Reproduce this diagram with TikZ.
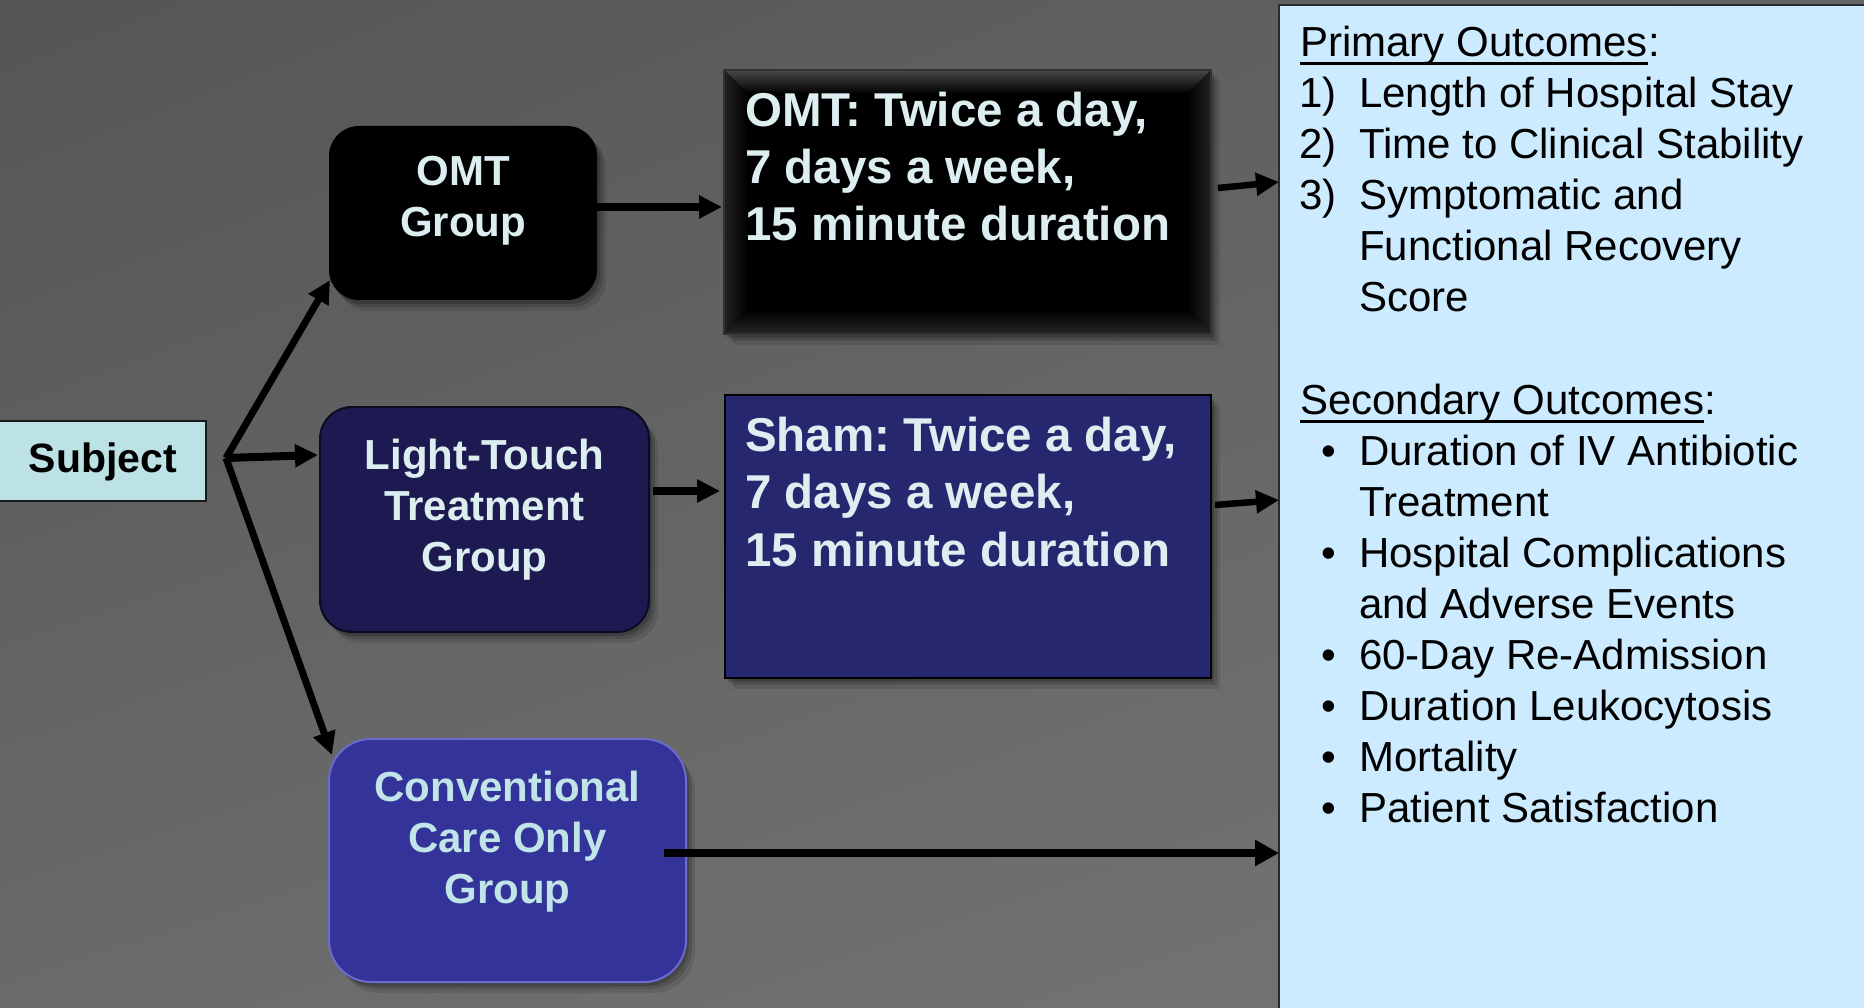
\documentclass[tikz,border=0pt]{standalone}
\usepackage{fontspec}
\setmainfont{Liberation Sans}
\usetikzlibrary{arrows.meta,calc,shadings}
\frenchspacing

\definecolor{bgTL}{HTML}{555555}
\definecolor{bgTR}{HTML}{646464}
\definecolor{bgBL}{HTML}{6A6A6A}
\definecolor{bgBR}{HTML}{767676}
\definecolor{subjfill}{HTML}{BDE2E6}
\definecolor{lighttxt}{HTML}{DDEEF0}
\definecolor{ccgtxt}{HTML}{C0E4E8}
\definecolor{ltgfill}{HTML}{1C1A50}
\definecolor{ltgdraw}{HTML}{0B0B22}
\definecolor{ccgfill}{HTML}{333399}
\definecolor{ccgdraw}{HTML}{6A6ACF}
\definecolor{shamfill}{HTML}{27276F}
\definecolor{outcfill}{HTML}{CCEBFF}
\definecolor{outcdraw}{HTML}{2A2A2A}
\definecolor{bevtop}{HTML}{484848}
\definecolor{bevside}{HTML}{222222}

\begin{document}
\begin{tikzpicture}[x=1pt,y=-1pt,
  box/.style={inner sep=0pt, outer sep=0pt},
  softshadow/.style={
    preaction={fill=black, fill opacity=0.10, transform canvas={shift={(9pt,-11pt)}}},
    preaction={fill=black, fill opacity=0.14, transform canvas={shift={(6pt,-7pt)}}},
    preaction={fill=black, fill opacity=0.18, transform canvas={shift={(3pt,-4pt)}}}},
  grptxt/.style={inner sep=0pt, anchor=base, text=lighttxt,
    font=\bfseries\fontsize{42}{51}\selectfont},
  treattxt/.style={inner sep=0pt, anchor=base west, text=lighttxt,
    font=\bfseries\fontsize{47.5}{57}\selectfont},
  outtxt/.style={inner sep=0pt, anchor=base west, text=black,
    font=\fontsize{42}{51}\selectfont},
  outbul/.style={inner sep=0pt, anchor=base, text=black,
    font=\fontsize{42}{51}\selectfont},
  arr/.style={line width=7pt, -{Triangle[length=23pt,width=22pt]}},
  ularr/.style={line width=3pt}
]
\useasboundingbox (0,0) rectangle (1864,1008);
\clip (0,0) rectangle (1864,1008);

% backdrop
\shade[upper left=bgTL, upper right=bgTR, lower left=bgBL, lower right=bgBR]
  (0,0) rectangle (1864,1008);

% subject
\node[box, draw=black!90, line width=2pt, fill=subjfill,
  minimum width=208pt, minimum height=80pt] (subj) at (102,461) {};
\node[inner sep=0pt, anchor=base, font=\bfseries\fontsize{41}{49}\selectfont]
  (subjt) at (103,472.5) {Subject};

% group boxes
\node[box, softshadow, fill=black, rounded corners=30pt,
  minimum width=268pt, minimum height=174pt] (omtg) at (463,213) {};
\node[box, softshadow, fill=ltgfill, draw=ltgdraw, line width=2pt, rounded corners=32pt,
  minimum width=329pt, minimum height=225pt] (ltg) at (484.5,519.5) {};
\node[box, softshadow, fill=ccgfill, draw=ccgdraw, line width=2pt, rounded corners=42pt,
  minimum width=357pt, minimum height=243pt] (ccg) at (507.5,860.5) {};

% treatment boxes
\node[box, softshadow, fill=black,
  minimum width=487pt, minimum height=264pt] (omt) at (967.5,202) {};
\shade[top color=bevtop, bottom color=black]
  (omt.north west) -- (omt.north east) -- ($(omt.north east)+(-24,24)$)
  -- ($(omt.north west)+(24,24)$) -- cycle;
\shade[left color=bevside, right color=black]
  (omt.north west) -- ($(omt.north west)+(24,24)$) -- ($(omt.south west)+(24,-24)$)
  -- (omt.south west) -- cycle;
\shade[right color=bevside, left color=black]
  (omt.north east) -- ($(omt.north east)+(-24,24)$) -- ($(omt.south east)+(-24,-24)$)
  -- (omt.south east) -- cycle;
\shade[bottom color=black!85!white, top color=black]
  (omt.south west) -- ($(omt.south west)+(24,-24)$) -- ($(omt.south east)+(-24,-24)$)
  -- (omt.south east) -- cycle;
\draw[draw=black!80, line width=1.5pt] (omt.north west) rectangle (omt.south east);

\node[box, softshadow, fill=shamfill, draw=black, line width=2.5pt,
  minimum width=486pt, minimum height=283pt] (sham) at (968,536.5) {};

% outcomes panel
\node[box, fill=outcfill, draw=outcdraw, line width=2pt, anchor=north west,
  minimum width=600pt, minimum height=1020pt] (outc) at (1279,5) {};

% connectors
\coordinate (fan) at ($(subj.east)+(20,-3)$);
\draw[arr] (fan) -- ($(omtg.south west)+(1,-20)$);
\draw[arr, line width=8pt] (fan) -- ($(ltg.north west)+(-2,48)$);
\draw[arr] (fan) -- ($(ccg.north west)+(3,16)$);
\draw[arr, line width=8pt] ($(omtg.east)+(0,-6)$) -- ($(omt.west)+(-2,5)$);
\draw[arr, line width=8pt] ($(ltg.east)+(4,-28.5)$) -- ($(sham.west)+(-5,-45.5)$);
\draw[arr, line width=6.5pt] ($(omt.east)+(7,-14)$) -- ($(outc.north west)+(0,177)$);
\draw[arr, line width=6.5pt] ($(sham.east)+(4,-31.5)$) -- ($(outc.north west)+(0,495)$);
\draw[arr, line width=7.5pt, -{Triangle[length=24pt,width=25pt]}]
  ($(ccg.east)+(-22,-7.5)$) -- ($(outc.north west)+(0,848)$);

% group labels
\node[grptxt] (omtg1) at (463,186) {OMT};
\node[grptxt] (omtg2) at (463,237) {Group};
\node[grptxt] (ltg1) at (484.5,469) {Light-Touch};
\node[grptxt] (ltg2) at (484.5,520) {Treatment};
\node[grptxt] (ltg3) at (484.5,571) {Group};
\node[grptxt, text=ccgtxt] (ccg1) at (507.5,801.5) {Conventional};
\node[grptxt, text=ccgtxt] (ccg2) at (507.5,852.5) {Care Only};
\node[grptxt, text=ccgtxt] (ccg3) at (507.5,903.5) {Group};

% treatment labels
\node[treattxt] (omt1) at (745,126.7) {OMT: Twice a day,};
\node[treattxt] (omt2) at (745,183.5) {7 days a week,};
\node[treattxt] (omt3) at (745,241) {15 minute duration};
\node[treattxt] (sham1) at (745,451) {Sham: Twice a day,};
\node[treattxt] (sham2) at (745,508.5) {7 days a week,};
\node[treattxt] (sham3) at (745,566) {15 minute duration};

% outcomes text
\node[outtxt] (prim) at (1300,56.3) {Primary Outcomes};
\node[outtxt] (primc) at (prim.base east) {:};
\draw[ularr] ($(prim.base west)+(0,7)$) -- ($(prim.base east)+(0,7)$);

\node[outtxt] (n1) at (1299,107.4) {1)};
\node[outtxt] (p1) at (1359,107.4) {Length of Hospital Stay};
\node[outtxt] (n2) at (1299,158.5) {2)};
\node[outtxt] (p2) at (1359,158.5) {Time to Clinical Stability};
\node[outtxt] (n3) at (1299,209.6) {3)};
\node[outtxt] (p3a) at (1359,209.6) {Symptomatic and};
\node[outtxt] (p3b) at (1359,260.7) {Functional Recovery};
\node[outtxt] (p3c) at (1359,311.8) {Score};

\node[outtxt] (sec) at (1300,414.0) {Secondary Outcomes};
\node[outtxt] (secc) at (sec.base east) {:};
\draw[ularr] ($(sec.base west)+(0,7)$) -- ($(sec.base east)+(0,7)$);

\node[outbul] (b1) at (1329,465.1) {•};
\node[outtxt] (s1a) at (1359,465.1) {Duration of IV Antibiotic};
\node[outtxt] (s1b) at (1359,516.2) {Treatment};
\node[outbul] (b2) at (1329,567.3) {•};
\node[outtxt] (s2a) at (1359,567.3) {Hospital Complications};
\node[outtxt] (s2b) at (1359,618.4) {and Adverse Events};
\node[outbul] (b3) at (1329,669.5) {•};
\node[outtxt] (s3) at (1359,669.5) {60-Day Re-Admission};
\node[outbul] (b4) at (1329,720.6) {•};
\node[outtxt] (s4) at (1359,720.6) {Duration Leukocytosis};
\node[outbul] (b5) at (1329,771.7) {•};
\node[outtxt] (s5) at (1359,771.7) {Mortality};
\node[outbul] (b6) at (1329,822.8) {•};
\node[outtxt] (s6) at (1359,822.8) {Patient Satisfaction};
\end{tikzpicture}
\end{document}
